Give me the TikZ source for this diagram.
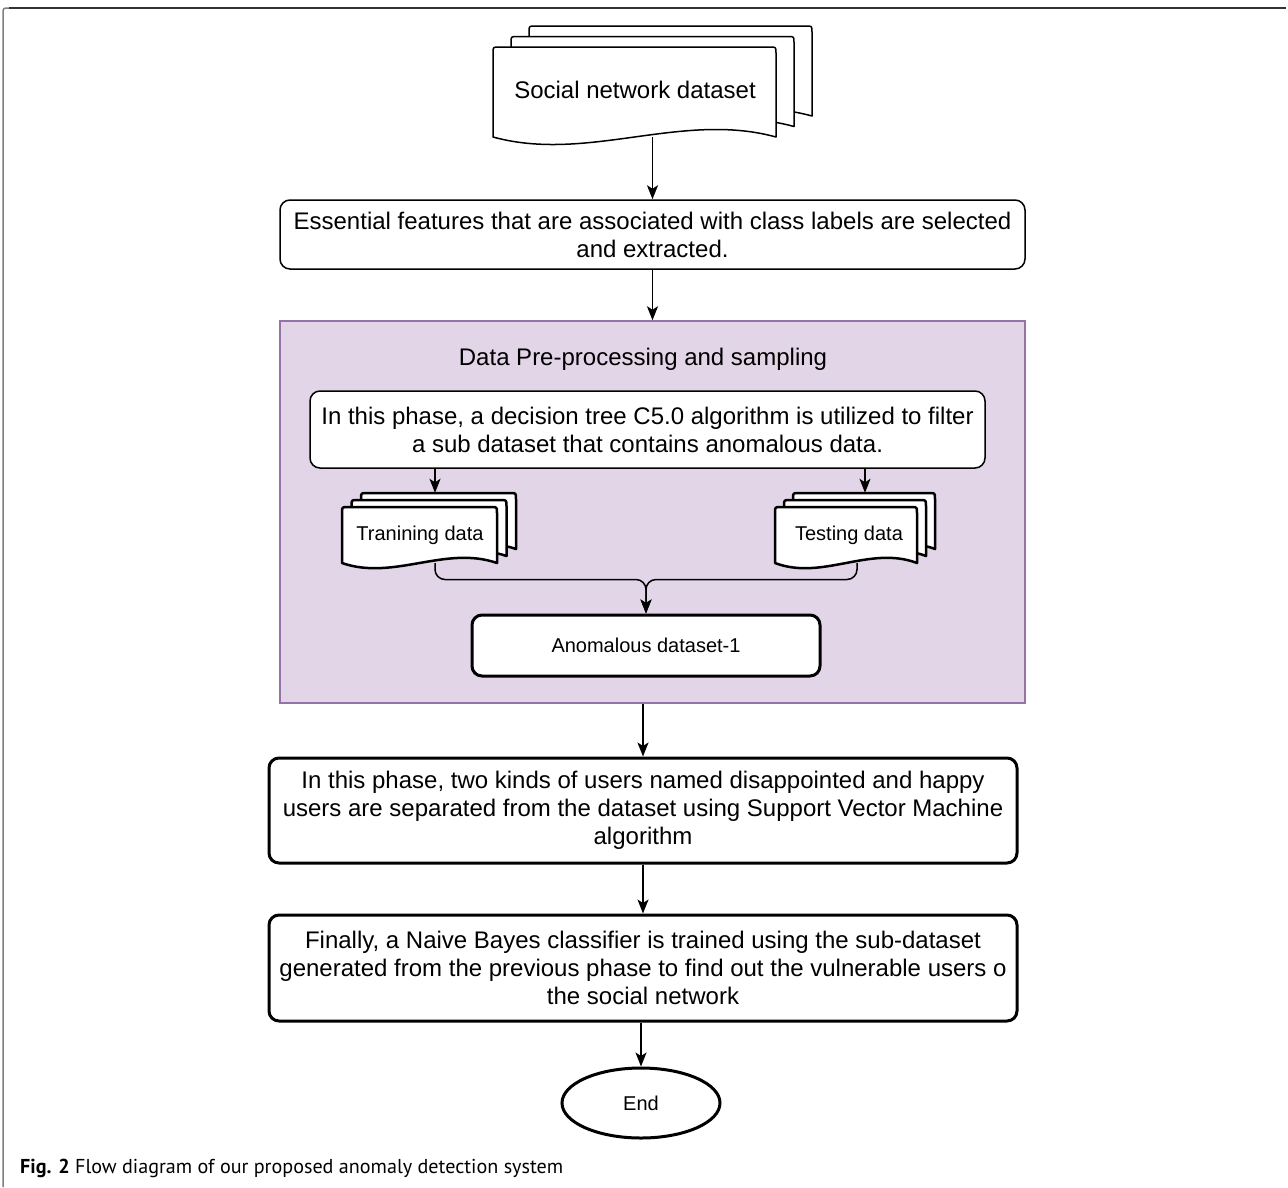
\documentclass[tikz,border=0pt]{standalone}
\usepackage{fontspec}
\usepackage{graphicx}
\setmainfont{Liberation Sans}
\newfontfamily\capfont{PT Sans}
\usetikzlibrary{arrows.meta,shapes.geometric,calc}
\definecolor{pfill}{HTML}{E1D5E7}
\definecolor{pdraw}{HTML}{9673A6}
\newcommand{\fsA}{\fontsize{24}{28}\selectfont}
\newcommand{\fsB}{\fontsize{20}{24}\selectfont}
% one document sheet: x0 y0 x1 y1 k lw
\newcommand{\onedoc}[6]{%
  \draw[fill=white,line width=#6,line join=round]
    ({#1},{#4}) -- ({#1},{(#2)+6}) .. controls ({#1},{#2}) .. ({(#1)+6},{#2})
    -- ({(#3)-6},{#2}) .. controls ({#3},{#2}) .. ({#3},{(#2)+6})
    -- ({#3},{#4}) .. controls ({(#1)+2*((#3)-(#1))/3},{(#4)-(#5)}) and ({(#1)+((#3)-(#1))/3},{(#4)+(#5)}) .. ({#1},{#4}) -- cycle;}
% stack of three sheets: x0 y0 x1 y1 dx dy k lw
\newcommand{\multidoc}[8]{%
  \onedoc{(#1)+2*(#5)}{(#2)-2*(#6)}{(#3)+2*(#5)}{(#4)-2*(#6)}{#7}{#8}
  \onedoc{(#1)+(#5)}{(#2)-(#6)}{(#3)+(#5)}{(#4)-(#6)}{#7}{#8}
  \onedoc{#1}{#2}{#3}{#4}{#7}{#8}}
\begin{document}
\begin{tikzpicture}[x=1pt,y=-1pt,
  arr/.style={line width=1.5pt,-{Stealth[length=14pt,width=11pt,inset=3.5pt]}},
  thinbox/.style={draw,line width=1.5pt,rounded corners=10pt,fill=white,align=center,inner sep=0pt,font=\fsA},
  thickbox/.style={thinbox,line width=3pt},
  lbl/.style={inner sep=0pt,align=center}]
\useasboundingbox (0,0) rectangle (1288,1187);
% frame
\draw[line width=1.5pt,draw=black!50] (3,1187) -- (3,14) .. controls (3,8) .. (9,8);
\draw[line width=1.5pt,draw=black!80] (9,8) -- (1286,8);
% top document
\multidoc{493}{47}{776}{137}{18}{10.5}{26}{1.5pt}
\node[lbl,minimum width=319pt,minimum height=111pt] (sn) at (652.5,81.5) {};
\node[lbl,font=\fsA] (snt) at (635,90) {Social network dataset};
% essential box
\node[thinbox,minimum width=745pt,minimum height=69pt] (ess) at (652.5,234.5)
  {Essential features that are associated with class labels are selected\\and extracted.};
\draw[arr] (sn.south) -- (ess.north);
% group
\node[draw=pdraw,fill=pfill,line width=1.5pt,minimum width=745pt,minimum height=382pt,inner sep=0pt] (grp) at (652.5,512) {};
\draw[arr] (ess.south) -- (grp.north);
\node[lbl,font=\fsA] (ttl) at (643,359) {Data Pre-processing and sampling};
\node[thinbox,minimum width=675pt,minimum height=77pt] (c5) at (647.5,429.5)
  {In this phase, a decision tree C5.0 algorithm is utilized to filter\\a sub dataset that contains anomalous data.};
% training / testing
\multidoc{342}{507}{497}{563}{9.5}{7}{18}{2.5pt}
\multidoc{775}{507}{917}{563}{9}{7}{18}{2.5pt}
\node[lbl,minimum width=176pt,minimum height=70pt] (trdoc) at (435,528) {};
\node[lbl,minimum width=160pt,minimum height=70pt] (tedoc) at (865,528) {};
\node[lbl,font=\fsB] (trt) at (420,535) {Tranining data};
\node[lbl,font=\fsB] (tet) at (849,535) {Testing data};
\draw[arr] (c5.south -| trdoc.north) -- (trdoc.north);
\draw[arr] (c5.south -| tedoc.north) -- (tedoc.north);
\node[thickbox,font=\fsB,minimum width=348pt,minimum height=61pt] (an) at (646,645.5) {Anomalous dataset-1};
\draw[arr,rounded corners=10pt] (trdoc.south) |- ($(an.north)+(0,-34)$) -- (an.north);
\draw[arr,rounded corners=10pt] ([xshift=-8pt]tedoc.south) |- ($(an.north)+(0,-34)$) -- (an.north);
% lower boxes
\node[thickbox,minimum width=748pt,minimum height=105pt] (b4) at (643,810.5)
  {In this phase, two kinds of users named disappointed and happy\\users are separated from the dataset using Support Vector Machine\\algorithm};
\draw[arr] (grp.south -| b4.north) -- (b4.north);
\node[thickbox,minimum width=748pt,minimum height=106pt] (b5) at (643,968)
  {Finally, a Naive Bayes classifier is trained using the sub-dataset\\generated from the previous phase to find out the vulnerable users o\\the social network};
\draw[arr] (b4.south) -- (b5.north);
\node[ellipse,draw,line width=3pt,minimum width=158pt,minimum height=70pt,inner sep=0pt,fill=white,font=\fsB] (end) at (641,1103) {End};
\draw[arr] (b5.south -| end.north) -- (end.north);
% caption
\node[anchor=base west,inner sep=0pt] (cap) at (20,1173)
  {\resizebox{543pt}{!}{\capfont\fontsize{20}{24}\selectfont\textbf{Fig. 2} Flow diagram of our proposed anomaly detection system}};
\end{tikzpicture}
\end{document}
